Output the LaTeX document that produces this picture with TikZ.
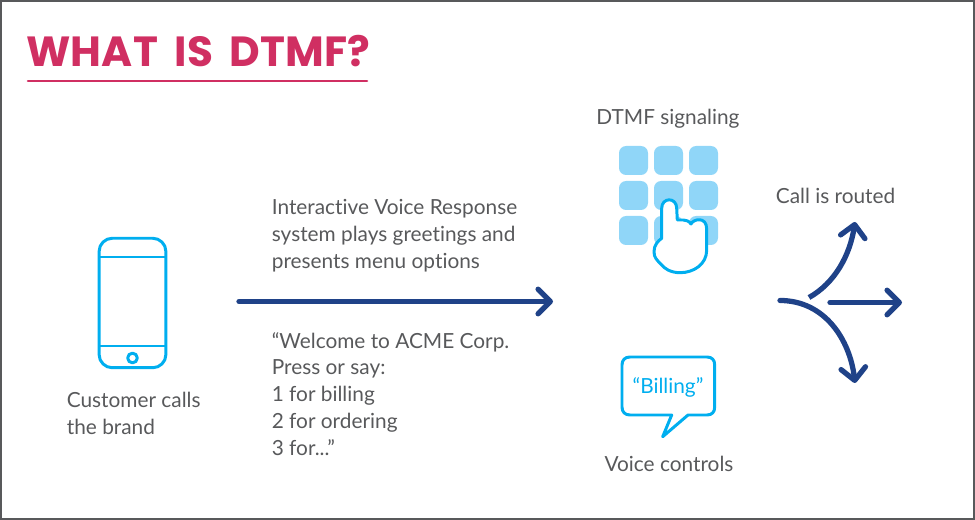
\documentclass[tikz,border=0pt]{standalone}
\usepackage{fontspec}
\setmainfont{Lato}[Ligatures=NoCommon]
\newfontfamily\titlefont[WordSpace=1.8,LetterSpace=0.5]{Poppins}
\usetikzlibrary{arrows.meta}

\definecolor{framegray}{HTML}{58595B}
\definecolor{titlered}{HTML}{D02F62}
\definecolor{navy}{HTML}{1F4288}
\definecolor{skyline}{HTML}{00AEEF}
\definecolor{keyblue}{HTML}{90D6F8}

\tikzset{
  label/.style={anchor=west,align=left,inner sep=0pt,text=framegray,font=\fontsize{11.85}{15.3}\selectfont},
  flow/.style={draw=navy,line width=3pt,line cap=round,-{Straight Barb[round,length=7pt,width=14pt]}},
  icon/.style={draw=skyline,line width=1.7pt,line join=round}
}

\begin{document}
\begin{tikzpicture}[x=0.02cm,y=-0.02cm]
  \useasboundingbox (0,0) rectangle (975,520);
  \draw[framegray,line width=1.2pt] (1,1) rectangle (974,519);

  % heading
  \node[anchor=base west,inner sep=0pt,text=titlered,font=\titlefont\bfseries\fontsize{24}{24}\selectfont] (heading) at (26,67) {WHAT IS DTMF?};
  \coordinate (ruleL) at (28,81);
  \coordinate (ruleR) at (367,81);
  \draw[titlered,line width=1.5pt,line cap=round] (ruleL) -- (ruleR);

  % phone
  \node[icon,draw,rounded corners=7.5pt,minimum width=38pt,minimum height=73.7pt,inner sep=0pt] (phone) at (132.5,303) {};
  \coordinate (phoneTL) at (99,257);
  \coordinate (phoneTR) at (166,257);
  \coordinate (phoneBL) at (99,346);
  \coordinate (phoneBR) at (166,346);
  \draw[icon] (phoneTL) -- (phoneTR);
  \draw[icon] (phoneBL) -- (phoneBR);
  \node[icon,draw,circle,minimum size=5.5pt,inner sep=0pt] (homekey) at (132.5,358) {};
  \node[label] (caller) at (66.5,413.5) {Customer calls\\the brand};

  % main arrow and menu texts
  \coordinate (menuL) at (239,301.5);
  \coordinate (menuR) at (553,301.5);
  \draw[flow] (menuL) -- (menuR);
  \node[label] (ivr) at (271.5,235.5) {Interactive Voice Response\\system plays greetings and\\presents menu options};
  \node[label] (prompt) at (271.5,394) {“Welcome to ACME Corp.\\Press or say:\\1 for billing\\2 for ordering\\3 for...”};

  % keypad
  \node[label,anchor=center] (dtmf) at (668,119) {DTMF signaling};
  \foreach \row in {0,1,2}
    \foreach \col in {0,1,2}
      \fill[keyblue,rounded corners=4pt] ({619+35*\col},{146+35*\row}) rectangle +(29,29);

  % pressing hand
  \draw[icon,fill=white] (661.7,238.3) -- (661.7,208.3)
    .. controls (661.7,197) and (676.7,197) .. (676.7,208.3)
    -- (677.3,220) -- (683.3,220)
    .. controls (686,220) and (689,221) .. (691,224)
    .. controls (693,219) and (706.7,216) .. (706.7,229)
    -- (706.7,250)
    .. controls (706.7,264) and (694,272.7) .. (680,272.7)
    .. controls (670,272.7) and (664,268) .. (661.7,265)
    .. controls (657,260) and (654,258) .. (654,251.7)
    .. controls (654,245) and (658,241) .. (661.7,238.3) -- cycle;

  % voice bubble
  \draw[icon] (630,357) -- (707,357)
    .. controls (712,357) and (714.7,360) .. (714.7,365)
    -- (714.7,407)
    .. controls (714.7,412) and (712,415) .. (707,415)
    -- (688,415) -- (662.7,436.7) -- (671.7,415) -- (630,415)
    .. controls (625,415) and (622,412) .. (622,407)
    -- (622,365)
    .. controls (622,360) and (625,357) .. (630,357) -- cycle;
  \node[label,anchor=center,text=skyline] (billing) at (668,387) {“Billing”};
  \node[label,anchor=center] (voice) at (669,464) {Voice controls};

  % routing arrows
  \node[label] (routed) at (775.5,196) {Call is routed};
  \coordinate (forkA) at (780,300.5);
  \coordinate (downEnd) at (855,383);
  \coordinate (forkB) at (809,297.5);
  \coordinate (upEnd) at (855,222);
  \coordinate (forkC) at (830,302.5);
  \coordinate (midEnd) at (902,302.5);
  \draw[flow,line cap=butt] (forkB) .. controls (835,283) and (850,255) .. (upEnd);
  \draw[flow] (forkC) -- (midEnd);
  \draw[flow] (forkA) .. controls (825,300.5) and (850,340) .. (downEnd);
\end{tikzpicture}
\end{document}
